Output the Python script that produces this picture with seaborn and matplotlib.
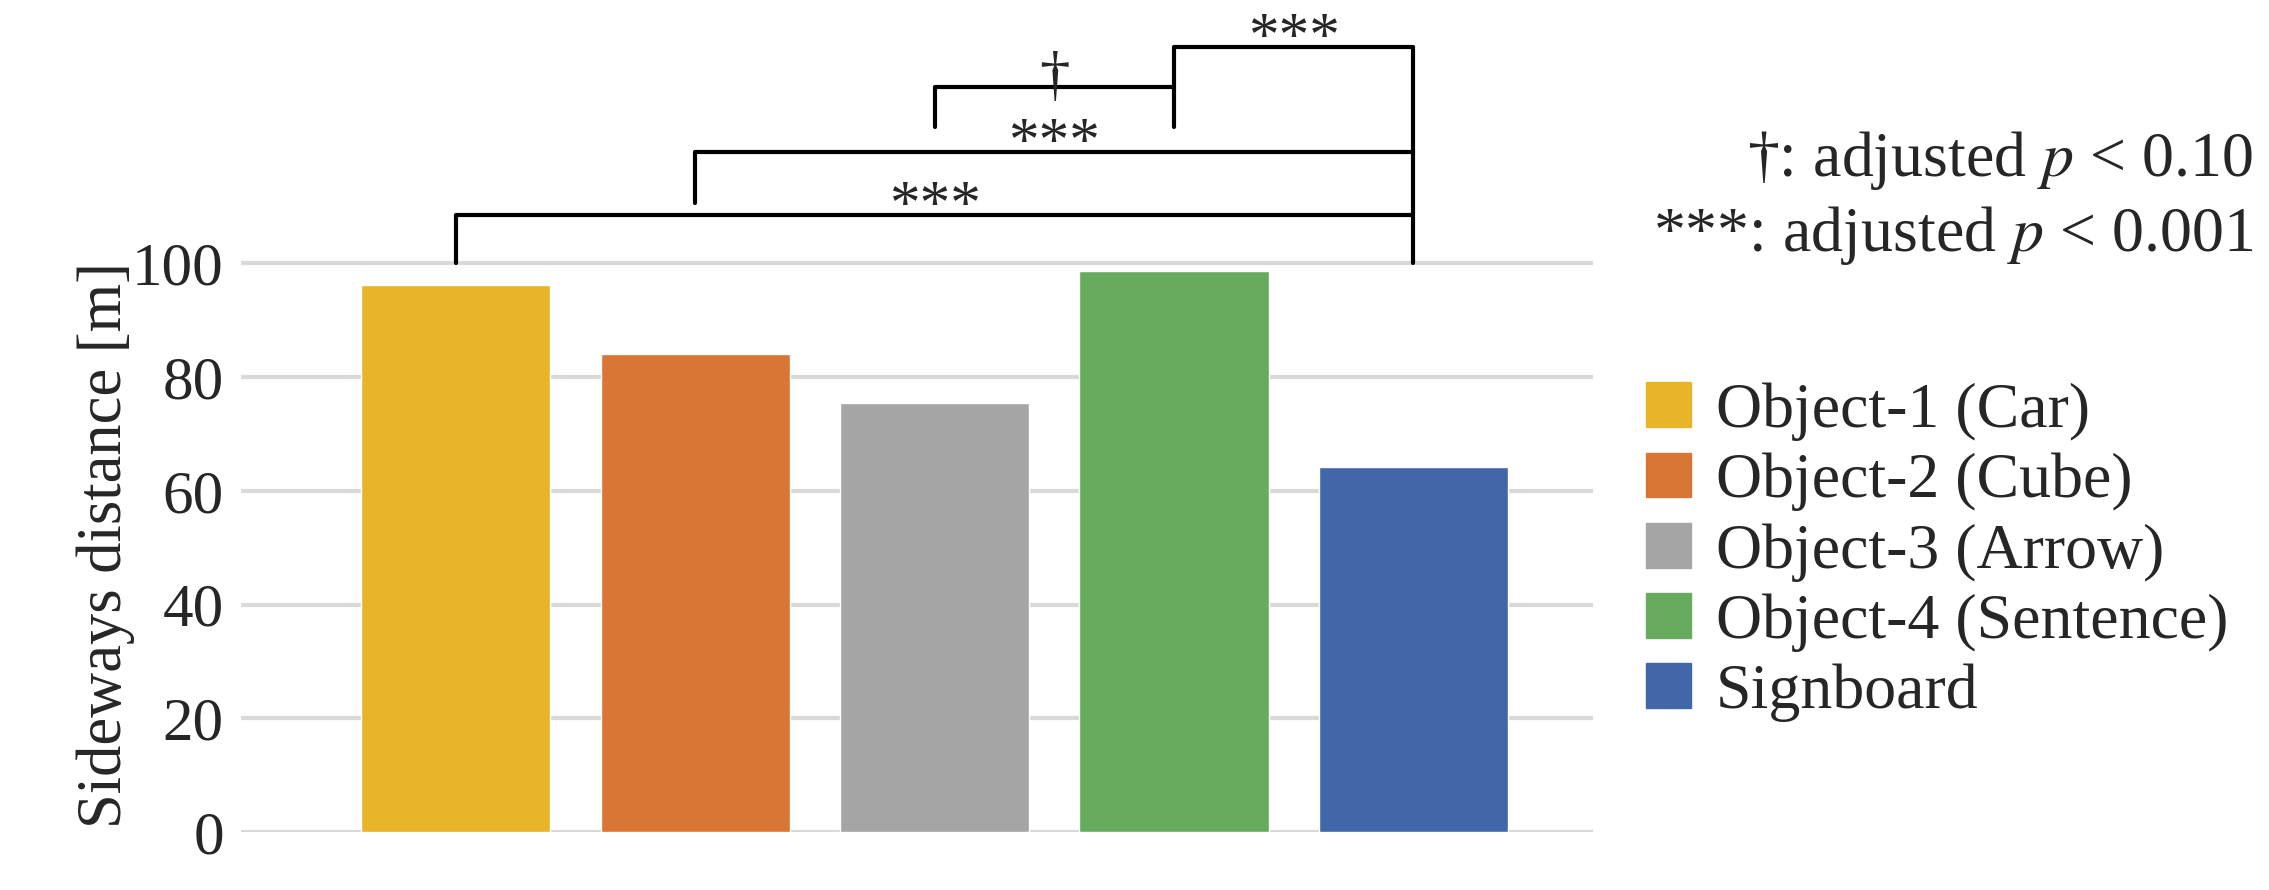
import matplotlib
matplotlib.use("Agg")
import matplotlib.pyplot as plt
import seaborn as sns
import pandas as pd
from matplotlib.patches import Patch

categories = ["Object-1 (Car)", "Object-2 (Cube)", "Object-3 (Arrow)", "Object-4 (Sentence)", "Signboard"]
values = [96.2, 84.1, 75.4, 98.7, 64.2]
colors = ["#E8B42A", "#D97636", "#A5A5A5", "#66AB5E", "#4167A8"]
# (left bar, right bar, bar level, left leg end, right leg end, label)
brackets = [
    (0, 4, 108.5, 100, 100, "***"),
    (1, 4, 119.5, 110.5, 108.5, "***"),
    (2, 3, 131, 124, 124, "\u2020"),
    (3, 4, 138, 131, 119.5, "***"),
]

sns.set_theme(style="white")
plt.rcParams["font.family"] = ["Liberation Serif", "DejaVu Serif"]
plt.rcParams["mathtext.fontset"] = "stix"

df = pd.DataFrame({"cat": categories, "val": values})
fig = plt.figure(figsize=(22.69, 8.9), dpi=100)
ax = fig.add_axes([0.106, 0.065, 0.596, 0.895])
sns.barplot(data=df, x="cat", y="val", hue="cat", palette=colors, width=0.79,
            saturation=1, legend=False, ax=ax)
ax.set_ylim(0, 140)
ax.set_xlim(-0.9, 4.75)
ax.set_yticks([0, 20, 40, 60, 80, 100])
ax.tick_params(axis="y", labelsize=44, length=0, pad=12)
ax.set_xticks([])
ax.set_xlabel("")
ax.set_ylabel("Sideways distance [m]", fontsize=45, labelpad=10)
ax.yaxis.set_label_coords(-0.078, 0.36)
for y in [0, 20, 40, 60, 80, 100]:
    ax.axhline(y, color="#D9D9D9", lw=3, zorder=0)
for s in ax.spines.values():
    s.set_visible(False)

for l, r, h, hl, hr, lab in brackets:
    ax.plot([l, l, r, r], [hl, h, h, hr], color="black", lw=3, clip_on=False)
    ax.text((l + r) / 2, h - 3.5, lab, ha="center", va="bottom", fontsize=44)

handles = [Patch(color=c, label=n) for c, n in zip(colors, categories)]
fig.legend(handles=handles, loc="upper left", bbox_to_anchor=(0.70, 0.635),
           frameon=False, fontsize=46, handlelength=0.7, handleheight=0.7,
           handletextpad=0.4, labelspacing=0.18)
fig.text(0.993, 0.82, "\u2020: adjusted $\\it{p}$ < 0.10", ha="right", va="center", fontsize=46)
fig.text(0.993, 0.735, "***: adjusted $\\it{p}$ < 0.001", ha="right", va="center", fontsize=46)

fig.savefig("out.png", dpi=100)
